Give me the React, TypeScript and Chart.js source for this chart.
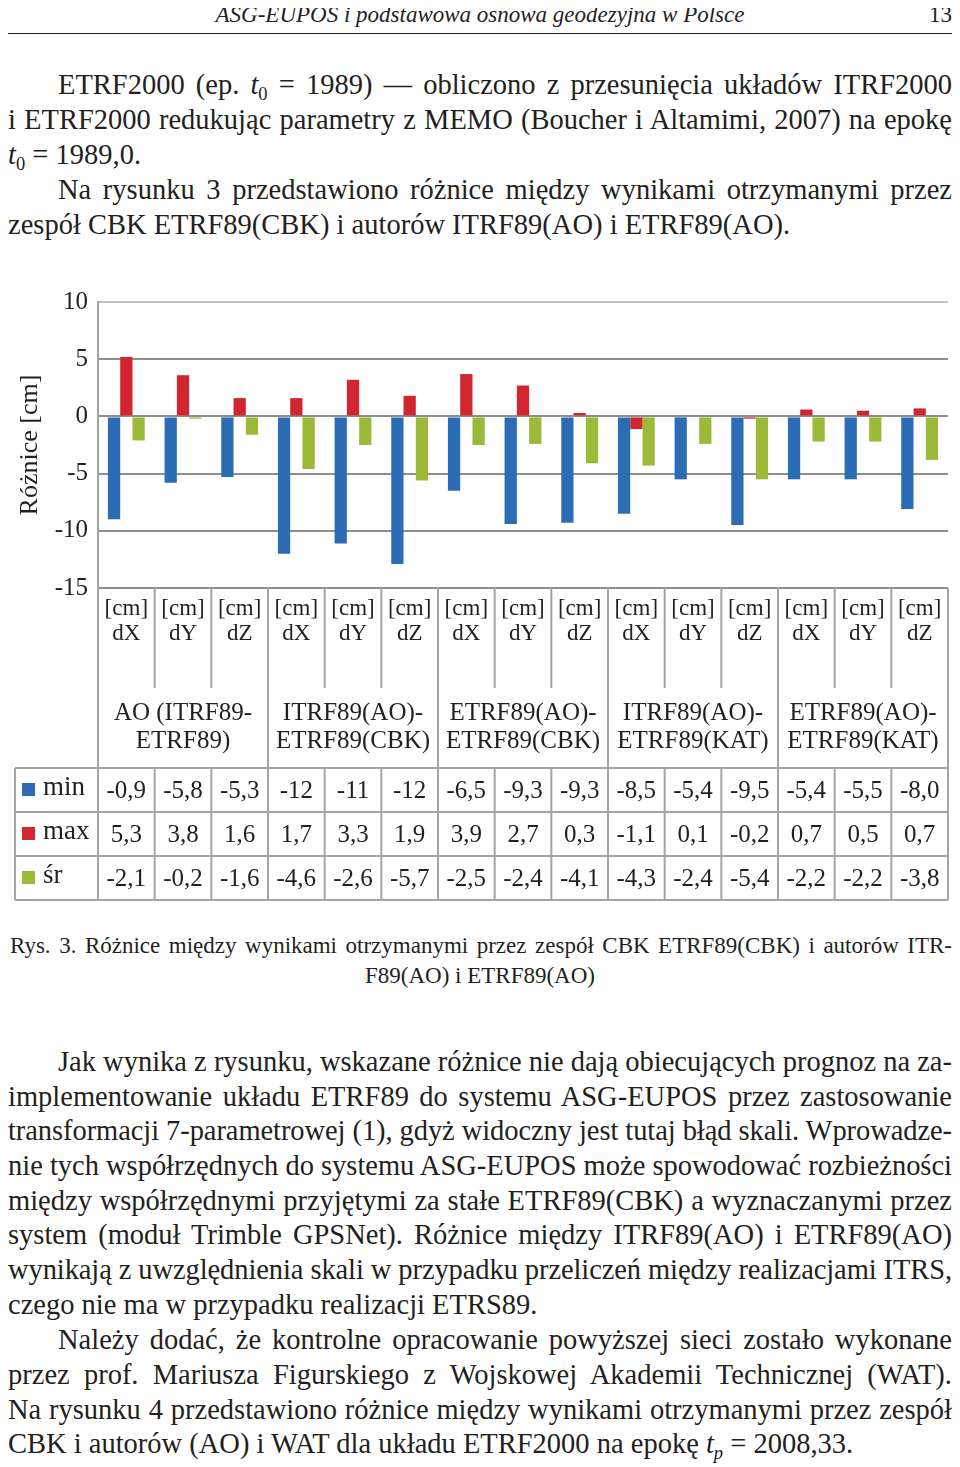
import React, { useEffect, useLayoutEffect, useRef } from 'react';
import { Chart, registerables } from 'chart.js';

Chart.register(...registerables);

// ---- data ----
const groupNames = [
  ['AO (ITRF89-', 'ETRF89)'],
  ['ITRF89(AO)-', 'ETRF89(CBK)'],
  ['ETRF89(AO)-', 'ETRF89(CBK)'],
  ['ITRF89(AO)-', 'ETRF89(KAT)'],
  ['ETRF89(AO)-', 'ETRF89(KAT)'],
];
const components = ['dX', 'dY', 'dZ'];
const unitLabel = '[cm]';
const seriesNames = ['min', 'max', 'śr'];
const seriesColors = ['#2c6cb5', '#d1262f', '#9bba3a'];
const minValues = [-9.0, -5.8, -5.3, -12.0, -11.1, -12.9, -6.5, -9.4, -9.3, -8.5, -5.5, -9.5, -5.5, -5.5, -8.1];
const maxValues = [5.2, 3.6, 1.6, 1.6, 3.2, 1.8, 3.7, 2.7, 0.3, -1.1, 0.1, -0.2, 0.6, 0.5, 0.7];
const meanValues = [-2.1, -0.2, -1.6, -4.6, -2.5, -5.6, -2.5, -2.4, -4.1, -4.3, -2.4, -5.5, -2.2, -2.2, -3.8];
const minTable = ['-0,9', '-5,8', '-5,3', '-12', '-11', '-12', '-6,5', '-9,3', '-9,3', '-8,5', '-5,4', '-9,5', '-5,4', '-5,5', '-8,0'];
const maxTable = ['5,3', '3,8', '1,6', '1,7', '3,3', '1,9', '3,9', '2,7', '0,3', '-1,1', '0,1', '-0,2', '0,7', '0,5', '0,7'];
const meanTable = ['-2,1', '-0,2', '-1,6', '-4,6', '-2,6', '-5,7', '-2,5', '-2,4', '-4,1', '-4,3', '-2,4', '-5,4', '-2,2', '-2,2', '-3,8'];
const yMin = -15;
const yMax = 10;
const yStep = 5;
const yTitle = 'Różnice [cm]';

const categoryLabels: string[][] = [];
groupNames.forEach(() => components.forEach((c) => categoryLabels.push([unitLabel, c])));

const SERIF = '"Liberation Serif", "Times New Roman", serif';
const INK = '#231f20';
const LINE = '#a4a4a4';
const TEXT_L = 8;
const TEXT_W = 944;

const tablePlugin = {
  id: 'tablePlugin',
  afterDraw(chart: any) {
    const { ctx, chartArea } = chart;
    const x = chart.scales.x;
    const step = x.getPixelForValue(1) - x.getPixelForValue(0);
    const n = categoryLabels.length;
    const edge = (i: number) => x.getPixelForValue(0) - step / 2 + i * step;
    const top = chartArea.bottom;
    const innerBottom = top + 100;
    const tableTop = top + 180;
    const rowH = 44;
    const tableBottom = tableTop + rowH * 3;
    const headLeft = 7;
    ctx.save();
    ctx.strokeStyle = LINE;
    ctx.lineWidth = 2;
    ctx.beginPath();
    for (let i = 0; i <= n; i++) {
      const ex = edge(i);
      if (i % 3 === 0) {
        ctx.moveTo(ex, top);
        ctx.lineTo(ex, tableBottom);
      } else {
        ctx.moveTo(ex, top);
        ctx.lineTo(ex, innerBottom);
        ctx.moveTo(ex, tableTop);
        ctx.lineTo(ex, tableBottom);
      }
    }
    ctx.moveTo(headLeft, tableTop);
    ctx.lineTo(headLeft, tableBottom);
    for (let r = 0; r <= 3; r++) {
      const yy = tableTop + r * rowH;
      ctx.moveTo(headLeft, yy);
      ctx.lineTo(edge(n), yy);
    }
    ctx.stroke();

    ctx.fillStyle = INK;
    ctx.textAlign = 'center';
    ctx.textBaseline = 'middle';
    ctx.font = `25px ${SERIF}`;
    groupNames.forEach((g, gi) => {
      const cx = (edge(gi * 3) + edge(gi * 3 + 3)) / 2;
      ctx.fillText(g[0], cx, top + 125);
      ctx.fillText(g[1], cx, top + 153);
    });
    const tables = [minTable, maxTable, meanTable];
    tables.forEach((row, r) => {
      const cy = tableTop + r * rowH + rowH / 2 + 1;
      row.forEach((t, i) => {
        ctx.fillText(t, x.getPixelForValue(i), cy);
      });
    });
    ctx.textAlign = 'left';
    ctx.font = `27px ${SERIF}`;
    seriesNames.forEach((s, r) => {
      const cy = tableTop + r * rowH + rowH / 2;
      ctx.fillStyle = seriesColors[r];
      ctx.fillRect(14, cy - 7, 13, 13);
      ctx.fillStyle = INK;
      ctx.fillText(s, 35, cy - 2);
    });
    ctx.restore();
  },
};

function Figure() {
  const ref = useRef<HTMLCanvasElement>(null);
  useEffect(() => {
    if (!ref.current) return;
    const chart = new Chart(ref.current, {
      type: 'bar',
      data: {
        labels: categoryLabels,
        datasets: [minValues, maxValues, meanValues].map((d, i) => ({
          label: seriesNames[i],
          data: d,
          backgroundColor: seriesColors[i],
          borderWidth: 0,
          barPercentage: 1,
          categoryPercentage: 0.65,
        })),
      },
      options: {
        animation: false,
        responsive: false,
        devicePixelRatio: 1,
        layout: { padding: { top: 14, right: 4, left: 0, bottom: 10 } },
        plugins: { legend: { display: false }, tooltip: { enabled: false } },
        scales: {
          x: {
            type: 'category',
            offset: true,
            grid: { display: false, drawTicks: false },
            border: { display: false },
            ticks: {
              autoSkip: false,
              maxRotation: 0,
              minRotation: 0,
              padding: 8,
              color: INK,
              font: { family: SERIF, size: 23, lineHeight: 1.09 },
            },
            afterFit: (s: any) => {
              s.height = 312;
              s.paddingLeft = 0;
              s.paddingRight = 0;
            },
          },
          y: {
            min: yMin,
            max: yMax,
            ticks: {
              stepSize: yStep,
              padding: 10,
              color: INK,
              font: { family: SERIF, size: 25 },
            },
            grid: {
              color: (c: any) => (c.tick && c.tick.value === yMax ? '#c2c2c2' : '#8e8e8e'),
              lineWidth: 2,
              drawTicks: false,
            },
            border: { display: true, color: LINE, width: 2 },
            title: {
              display: true,
              text: yTitle,
              color: INK,
              font: { family: SERIF, size: 26 },
              padding: { top: 7, bottom: 0 },
            },
            afterFit: (s: any) => {
              s.width = 90;
              s.paddingTop = 0;
              s.paddingBottom = 0;
            },
          },
        },
      },
      plugins: [tablePlugin],
    });
    return () => chart.destroy();
  }, []);
  return <canvas ref={ref} width={944} height={622} style={{ width: 944, height: 622, display: 'block' }} />;
}

const T0 = () => (
  <>
    <i>t</i>
    <sub style={{ fontSize: '0.65em', verticalAlign: '-0.3em', lineHeight: 0 }}>0</sub>
  </>
);
const TP = () => (
  <>
    <i>t</i>
    <sub style={{ fontSize: '0.65em', verticalAlign: '-0.3em', lineHeight: 0 }}>
      <i>p</i>
    </sub>
  </>
);

type LineProps = { y: number; indent?: boolean; just?: boolean; size?: number; children: React.ReactNode; center?: boolean; left?: number; width?: number };
function Line({ y, indent, just, size = 28.5, children, center, left = TEXT_L, width = TEXT_W }: LineProps) {
  const ref = useRef<HTMLSpanElement>(null);
  useLayoutEffect(() => {
    const el = ref.current;
    if (!el || !just) return;
    el.style.wordSpacing = '0px';
    el.style.letterSpacing = '0px';
    const target = width - (indent ? 50 : 0);
    const w = el.getBoundingClientRect().width;
    const txt = el.textContent || '';
    const spaces = (txt.match(/ /g) || []).length;
    if (w <= target && spaces > 0) {
      el.style.wordSpacing = `${(target - w) / spaces}px`;
    } else if (w > target) {
      el.style.letterSpacing = `${(target - w) / txt.length}px`;
    }
  }, []);
  return (
    <div
      style={{
        position: 'absolute',
        left,
        top: y - size / 2,
        width,
        fontSize: size,
        lineHeight: `${size}px`,
        height: size,
        textAlign: center ? 'center' : 'left',
        whiteSpace: 'nowrap',
      }}
    >
      <span ref={ref} style={{ display: 'inline-block', marginLeft: indent ? 50 : 0, whiteSpace: 'nowrap' }}>
        {children}
      </span>
    </div>
  );
}

export default function App() {
  return (
    <div
      style={{
        position: 'relative',
        margin: '-8px 0 0 -8px',
        width: 952,
        height: 1467,
        overflow: 'hidden',
        background: '#ffffff',
        fontFamily: SERIF,
        color: INK,
      }}
    >
      <div
        style={{
          position: 'absolute',
          left: TEXT_L,
          top: 15 - 12,
          width: TEXT_W,
          textAlign: 'center',
          fontStyle: 'italic',
          fontSize: 23,
          lineHeight: '24px',
        }}
      >
        <span>ASG-EUPOS i podstawowa osnowa geodezyjna w Polsce</span>
        <span style={{ position: 'absolute', right: 0, top: 0, fontStyle: 'normal' }}>13</span>
      </div>
      <div style={{ position: 'absolute', left: TEXT_L, top: 33, width: TEXT_W, height: 0, borderTop: '1.5px solid #231f20' }} />

      <Line y={85} indent just>
        ETRF2000 (ep. <T0 /> = 1989) — obliczono z przesunięcia układów ITRF2000
      </Line>
      <Line y={120} just>
        i ETRF2000 redukując parametry z MEMO (Boucher i Altamimi, 2007) na epokę
      </Line>
      <Line y={155}>
        <T0 /> = 1989,0.
      </Line>
      <Line y={190} indent just>
        Na rysunku 3 przedstawiono różnice między wynikami otrzymanymi przez
      </Line>
      <Line y={225}>zespół CBK ETRF89(CBK) i autorów ITRF89(AO) i ETRF89(AO).</Line>

      <div style={{ position: 'absolute', left: 8, top: 288 }}>
        <Figure />
      </div>

      <Line y={945} just size={23} left={10} width={942}>
        Rys. 3. Różnice między wynikami otrzymanymi przez zespół CBK ETRF89(CBK) i autorów ITR-
      </Line>
      <Line y={975} center size={23}>
        F89(AO) i ETRF89(AO)
      </Line>

      <Line y={1062} indent just>
        Jak wynika z rysunku, wskazane różnice nie dają obiecujących prognoz na za-
      </Line>
      <Line y={1097} just>
        implementowanie układu ETRF89 do systemu ASG-EUPOS przez zastosowanie
      </Line>
      <Line y={1131} just>
        transformacji 7-parametrowej (1), gdyż widoczny jest tutaj błąd skali. Wprowadze-
      </Line>
      <Line y={1166} just>
        nie tych współrzędnych do systemu ASG-EUPOS może spowodować rozbieżności
      </Line>
      <Line y={1201} just>
        między współrzędnymi przyjętymi za stałe ETRF89(CBK) a wyznaczanymi przez
      </Line>
      <Line y={1235} just>
        system (moduł Trimble GPSNet). Różnice między ITRF89(AO) i ETRF89(AO)
      </Line>
      <Line y={1270} just>
        wynikają z uwzględnienia skali w przypadku przeliczeń między realizacjami ITRS,
      </Line>
      <Line y={1305}>czego nie ma w przypadku realizacji ETRS89.</Line>
      <Line y={1340} indent just>
        Należy dodać, że kontrolne opracowanie powyższej sieci zostało wykonane
      </Line>
      <Line y={1375} just>
        przez prof. Mariusza Figurskiego z Wojskowej Akademii Technicznej (WAT).
      </Line>
      <Line y={1410} just>
        Na rysunku 4 przedstawiono różnice między wynikami otrzymanymi przez zespół
      </Line>
      <Line y={1444}>
        CBK i autorów (AO) i WAT dla układu ETRF2000 na epokę <TP /> = 2008,33.
      </Line>
    </div>
  );
}
